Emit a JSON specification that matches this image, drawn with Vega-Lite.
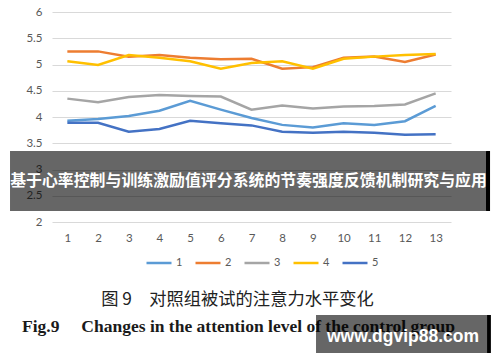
{
  "$schema": "https://vega.github.io/schema/vega-lite/v6.json",
  "width": 399,
  "height": 210,
  "autosize": {"type": "none"},
  "padding": {"left": 52, "top": 12, "right": 49, "bottom": 140},
  "background": "white",
  "config": {
    "view": {"stroke": null},
    "font": "Lato",
    "axis": {"labelFont": "Lato", "labelColor": "#595959", "labelFontSize": 11.5, "domain": false, "ticks": false, "labelOverlap": false}
  },
  "layer": [
    {
      "data": {"values": [
        {"x": 1, "series": "1", "v": 3.93}, {"x": 2, "series": "1", "v": 3.96}, {"x": 3, "series": "1", "v": 4.02}, {"x": 4, "series": "1", "v": 4.12}, {"x": 5, "series": "1", "v": 4.31}, {"x": 6, "series": "1", "v": 4.14}, {"x": 7, "series": "1", "v": 3.98}, {"x": 8, "series": "1", "v": 3.85}, {"x": 9, "series": "1", "v": 3.8}, {"x": 10, "series": "1", "v": 3.88}, {"x": 11, "series": "1", "v": 3.85}, {"x": 12, "series": "1", "v": 3.92}, {"x": 13, "series": "1", "v": 4.21},
        {"x": 1, "series": "2", "v": 5.25}, {"x": 2, "series": "2", "v": 5.25}, {"x": 3, "series": "2", "v": 5.15}, {"x": 4, "series": "2", "v": 5.18}, {"x": 5, "series": "2", "v": 5.13}, {"x": 6, "series": "2", "v": 5.1}, {"x": 7, "series": "2", "v": 5.11}, {"x": 8, "series": "2", "v": 4.92}, {"x": 9, "series": "2", "v": 4.95}, {"x": 10, "series": "2", "v": 5.13}, {"x": 11, "series": "2", "v": 5.15}, {"x": 12, "series": "2", "v": 5.05}, {"x": 13, "series": "2", "v": 5.19},
        {"x": 1, "series": "3", "v": 4.35}, {"x": 2, "series": "3", "v": 4.28}, {"x": 3, "series": "3", "v": 4.38}, {"x": 4, "series": "3", "v": 4.42}, {"x": 5, "series": "3", "v": 4.4}, {"x": 6, "series": "3", "v": 4.39}, {"x": 7, "series": "3", "v": 4.14}, {"x": 8, "series": "3", "v": 4.22}, {"x": 9, "series": "3", "v": 4.16}, {"x": 10, "series": "3", "v": 4.2}, {"x": 11, "series": "3", "v": 4.21}, {"x": 12, "series": "3", "v": 4.24}, {"x": 13, "series": "3", "v": 4.45},
        {"x": 1, "series": "4", "v": 5.06}, {"x": 2, "series": "4", "v": 4.99}, {"x": 3, "series": "4", "v": 5.18}, {"x": 4, "series": "4", "v": 5.13}, {"x": 5, "series": "4", "v": 5.06}, {"x": 6, "series": "4", "v": 4.92}, {"x": 7, "series": "4", "v": 5.03}, {"x": 8, "series": "4", "v": 5.06}, {"x": 9, "series": "4", "v": 4.92}, {"x": 10, "series": "4", "v": 5.11}, {"x": 11, "series": "4", "v": 5.15}, {"x": 12, "series": "4", "v": 5.18}, {"x": 13, "series": "4", "v": 5.2},
        {"x": 1, "series": "5", "v": 3.89}, {"x": 2, "series": "5", "v": 3.89}, {"x": 3, "series": "5", "v": 3.72}, {"x": 4, "series": "5", "v": 3.77}, {"x": 5, "series": "5", "v": 3.93}, {"x": 6, "series": "5", "v": 3.88}, {"x": 7, "series": "5", "v": 3.84}, {"x": 8, "series": "5", "v": 3.72}, {"x": 9, "series": "5", "v": 3.7}, {"x": 10, "series": "5", "v": 3.72}, {"x": 11, "series": "5", "v": 3.7}, {"x": 12, "series": "5", "v": 3.66}, {"x": 13, "series": "5", "v": 3.67}
      ]},
      "mark": {"type": "line", "strokeWidth": 2.5},
      "encoding": {
        "x": {"field": "x", "type": "quantitative", "scale": {"domain": [0.5, 13.5], "nice": false, "zero": false},
              "axis": {"title": null, "values": [1,2,3,4,5,6,7,8,9,10,11,12,13], "grid": false, "labelPadding": 10, "labelOverlap": false, "labelBound": false, "labelFlush": false}},
        "y": {"field": "v", "type": "quantitative", "scale": {"domain": [2, 6], "nice": false, "zero": false},
              "axis": {"title": null, "values": [2,2.5,3,3.5,4,4.5,5,5.5,6], "gridColor": "#d9d9d9", "gridWidth": 1, "labelPadding": 10, "labelOverlap": false, "labelBound": false, "labelFlush": false, "format": "~g"}},
        "color": {"field": "series", "type": "nominal",
                  "scale": {"domain": ["1","2","3","4","5"], "range": ["#5B9BD5","#ED7D31","#A5A5A5","#FFC000","#4472C4"]},
                  "legend": {"orient": "none", "legendX": 93, "legendY": 237, "direction": "horizontal", "title": null,
                             "symbolType": "stroke", "symbolSize": 625, "symbolStrokeWidth": 2.5, "labelFontSize": 11,
                             "labelColor": "#595959", "labelFont": "Lato", "labelOffset": 3, "columnPadding": 7}}
      }
    },
    {
      "data": {"values": [
        {"x": 6.544, "v": 0.514, "t": "图 9　对照组被试的注意力水平变化"}
      ]},
      "mark": {"type": "text", "font": "Noto Sans CJK SC", "fontSize": 17.3, "color": "#222222", "align": "center", "baseline": "middle"},
      "encoding": {
        "x": {"field": "x", "type": "quantitative", "axis": {"title": null, "values": [1,2,3,4,5,6,7,8,9,10,11,12,13], "grid": false, "labelPadding": 10, "labelOverlap": false, "labelBound": false, "labelFlush": false}},
        "y": {"field": "v", "type": "quantitative", "axis": {"title": null, "values": [2,2.5,3,3.5,4,4.5,5,5.5,6], "gridColor": "#d9d9d9", "gridWidth": 1, "labelPadding": 10, "labelOverlap": false, "labelBound": false, "labelFlush": false, "format": "~g"}},
        "text": {"field": "t"}}
    },
    {
      "data": {"values": [
        {"x": 6.577, "v": 0.006, "t": "Fig.9\u2003 Changes in the attention level of the control group"}
      ]},
      "mark": {"type": "text", "font": "Liberation Serif", "fontWeight": "bold", "fontSize": 17.5, "color": "#1a1a1a", "align": "center", "baseline": "middle"},
      "encoding": {
        "x": {"field": "x", "type": "quantitative", "axis": {"title": null, "values": [1,2,3,4,5,6,7,8,9,10,11,12,13], "grid": false, "labelPadding": 10, "labelOverlap": false, "labelBound": false, "labelFlush": false}},
        "y": {"field": "v", "type": "quantitative", "axis": {"title": null, "values": [2,2.5,3,3.5,4,4.5,5,5.5,6], "gridColor": "#d9d9d9", "gridWidth": 1, "labelPadding": 10, "labelOverlap": false, "labelBound": false, "labelFlush": false, "format": "~g"}},
        "text": {"field": "t"}}
    },
    {
      "data": {"values": [
        {"x": -0.868, "x2": 14.641, "v": 3.352, "v2": 2.21},
        {"x": 9.102, "x2": 14.674, "v": 0.229, "v2": -0.495}
      ]},
      "mark": {"type": "rect", "color": "black", "opacity": 0.6},
      "encoding": {
        "x": {"field": "x", "type": "quantitative", "axis": {"title": null, "values": [1,2,3,4,5,6,7,8,9,10,11,12,13], "grid": false, "labelPadding": 10, "labelOverlap": false, "labelBound": false, "labelFlush": false}},
        "x2": {"field": "x2"},
        "y": {"field": "v", "type": "quantitative", "axis": {"title": null, "values": [2,2.5,3,3.5,4,4.5,5,5.5,6], "gridColor": "#d9d9d9", "gridWidth": 1, "labelPadding": 10, "labelOverlap": false, "labelBound": false, "labelFlush": false, "format": "~g"}},
        "y2": {"field": "v2"}}
    },
    {
      "data": {"values": [
        {"x": 14.641, "x2": 14.772, "v": 3.352, "v2": 2.21},
        {"x": 14.674, "x2": 14.80, "v": 0.229, "v2": -0.495}
      ]},
      "mark": {"type": "rect", "color": "black", "opacity": 1},
      "encoding": {
        "x": {"field": "x", "type": "quantitative", "axis": {"title": null, "values": [1,2,3,4,5,6,7,8,9,10,11,12,13], "grid": false, "labelPadding": 10, "labelOverlap": false, "labelBound": false, "labelFlush": false}},
        "x2": {"field": "x2"},
        "y": {"field": "v", "type": "quantitative", "axis": {"title": null, "values": [2,2.5,3,3.5,4,4.5,5,5.5,6], "gridColor": "#d9d9d9", "gridWidth": 1, "labelPadding": 10, "labelOverlap": false, "labelBound": false, "labelFlush": false, "format": "~g"}},
        "y2": {"field": "v2"}}
    },
    {
      "data": {"values": [
        {"x": 6.903, "v": 2.781, "t": "基于心率控制与训练激励值评分系统的节奏强度反馈机制研究与应用"}
      ]},
      "mark": {"type": "text", "font": "Noto Sans CJK SC", "fontWeight": "bold", "fontSize": 15.9, "color": "white", "align": "center", "baseline": "middle"},
      "encoding": {
        "x": {"field": "x", "type": "quantitative", "axis": {"title": null, "values": [1,2,3,4,5,6,7,8,9,10,11,12,13], "grid": false, "labelPadding": 10, "labelOverlap": false, "labelBound": false, "labelFlush": false}},
        "y": {"field": "v", "type": "quantitative", "axis": {"title": null, "values": [2,2.5,3,3.5,4,4.5,5,5.5,6], "gridColor": "#d9d9d9", "gridWidth": 1, "labelPadding": 10, "labelOverlap": false, "labelBound": false, "labelFlush": false, "format": "~g"}},
        "text": {"field": "t"}}
    },
    {
      "data": {"values": [
        {"x": 11.937, "v": -0.19, "t": "www.dgvip88.com"}
      ]},
      "mark": {"type": "text", "font": "Liberation Sans", "fontWeight": "bold", "fontSize": 17.5, "color": "white", "align": "center", "baseline": "middle"},
      "encoding": {
        "x": {"field": "x", "type": "quantitative", "axis": {"title": null, "values": [1,2,3,4,5,6,7,8,9,10,11,12,13], "grid": false, "labelPadding": 10, "labelOverlap": false, "labelBound": false, "labelFlush": false}},
        "y": {"field": "v", "type": "quantitative", "axis": {"title": null, "values": [2,2.5,3,3.5,4,4.5,5,5.5,6], "gridColor": "#d9d9d9", "gridWidth": 1, "labelPadding": 10, "labelOverlap": false, "labelBound": false, "labelFlush": false, "format": "~g"}},
        "text": {"field": "t"}}
    }
  ]
}
